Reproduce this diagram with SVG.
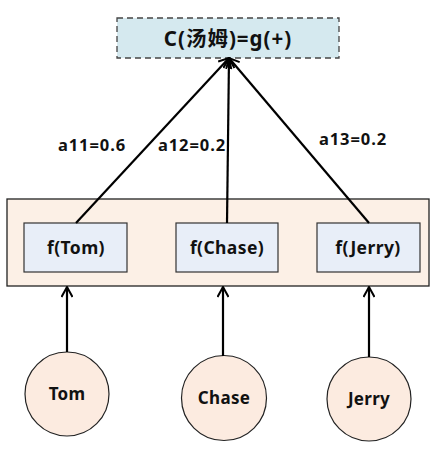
<svg xmlns="http://www.w3.org/2000/svg" width="439" height="456" viewBox="0 0 439 456">
<defs>
<style>
text{font-family:"Noto Sans","Noto Sans CJK SC",sans-serif;font-weight:bold;fill:#111;text-anchor:middle}
.lbl{font-size:16.5px;letter-spacing:0.9px;text-anchor:start}
.ft{font-size:17.5px;letter-spacing:0.4px}
.ct{font-size:17px;letter-spacing:0.3px}
.fb{fill:#e8eef8;stroke:#333;stroke-width:1.2}
.cir{fill:#fcebe0;stroke:#222;stroke-width:1.2}
.ln{stroke:#000;stroke-width:2.2;fill:none}
</style>
<marker id="ah" viewBox="0 0 12 12" refX="11" refY="6" markerWidth="12" markerHeight="12" markerUnits="userSpaceOnUse" orient="auto">
<path d="M1,0.5 L11,6 L1,11.5" fill="none" stroke="#000" stroke-width="2"/>
</marker>
</defs>
<rect width="439" height="456" fill="#fff"/>
<g id="top">
<rect x="117" y="18" width="222" height="40" fill="#d5e9ef" stroke="#444" stroke-width="1.3" stroke-dasharray="6,4"/>
<text x="228" y="46" font-size="20.5" letter-spacing="1">C(汤姆)=g(+)</text>
</g>
<g id="container">
<rect x="7" y="199" width="422" height="87" fill="#fcf0e6" stroke="#222" stroke-width="1.3"/>
</g>
<g id="fTom">
<rect class="fb" x="24" y="223" width="103" height="49"/>
<text class="ft" x="76" y="254">f(Tom)</text>
</g>
<g id="fChase">
<rect class="fb" x="176" y="223" width="102" height="49"/>
<text class="ft" x="227" y="254">f(Chase)</text>
</g>
<g id="fJerry">
<rect class="fb" x="317" y="223" width="103" height="49"/>
<text class="ft" x="368" y="254">f(Jerry)</text>
</g>
<g id="tom">
<circle class="cir" cx="67" cy="394" r="42"/>
<text class="ct" x="67" y="400">Tom</text>
</g>
<g id="chase">
<circle class="cir" cx="224" cy="398" r="42.5"/>
<text class="ct" x="224" y="404">Chase</text>
</g>
<g id="jerry">
<circle class="cir" cx="369" cy="399" r="42"/>
<text class="ct" x="369" y="405">Jerry</text>
</g>
<g id="connectors">
<line class="ln" x1="76" y1="223" x2="229" y2="58" marker-end="url(#ah)"/>
<line class="ln" x1="227" y1="223" x2="229" y2="58" marker-end="url(#ah)"/>
<line class="ln" x1="369" y1="223" x2="229" y2="58" marker-end="url(#ah)"/>
<line class="ln" x1="67" y1="352" x2="67" y2="287" marker-end="url(#ah)"/>
<line class="ln" x1="223" y1="356" x2="223" y2="287" marker-end="url(#ah)"/>
<line class="ln" x1="369" y1="357" x2="369" y2="287" marker-end="url(#ah)"/>
<text class="lbl" x="58" y="151">a11=0.6</text>
<text class="lbl" x="158" y="151">a12=0.2</text>
<text class="lbl" x="319" y="145">a13=0.2</text>
</g>
</svg>
